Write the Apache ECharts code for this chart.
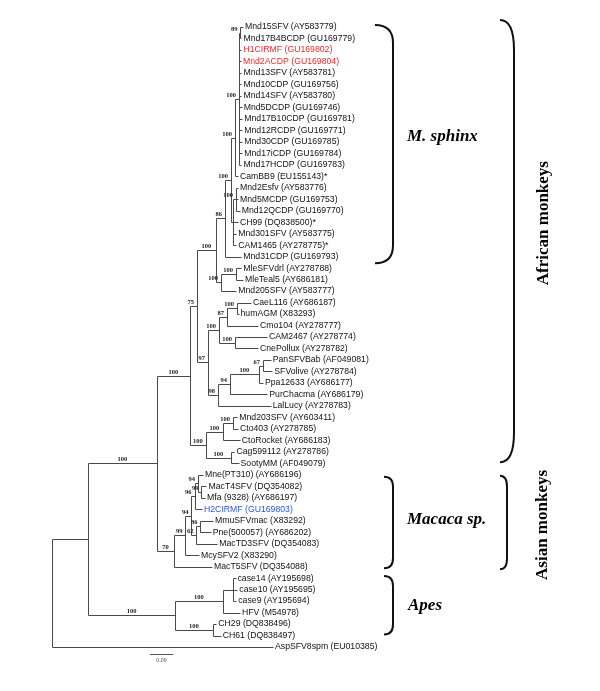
<!DOCTYPE html>
<html><head><meta charset="utf-8">
<script src="https://cdn.jsdelivr.net/npm/echarts@6.0.0/dist/echarts.min.js"></script>
<style>html,body{margin:0;padding:0;background:#fff}#chart{width:600px;height:691px}</style>
</head><body><div id="chart"></div>
<script>
// ---------- DATA ----------
const taxa = [
 'Mnd15SFV (AY583779)','Mnd17B4BCDP (GU169779)','H1CIRMF (GU169802)','Mnd2ACDP (GU169804)',
 'Mnd13SFV (AY583781)','Mnd10CDP (GU169756)','Mnd14SFV (AY583780)','Mnd5DCDP (GU169746)',
 'Mnd17B10CDP (GU169781)','Mnd12RCDP (GU169771)','Mnd30CDP (GU169785)','Mnd17iCDP (GU169784)',
 'Mnd17HCDP (GU169783)','CamBB9 (EU155143)*','Mnd2Esfv (AY583776)','Mnd5MCDP (GU169753)',
 'Mnd12QCDP (GU169770)','CH99 (DQ838500)*','Mnd301SFV (AY583775)','CAM1465 (AY278775)*',
 'Mnd31CDP (GU169793)','MleSFVdrl (AY278788)','MleTeal5 (AY686181)','Mnd205SFV (AY583777)',
 'CaeL116 (AY686187)','humAGM (X83293)','Cmo104 (AY278777)','CAM2467 (AY278774)',
 'CnePollux (AY278782)','PanSFVBab (AF049081)','SFVolive (AY278784)','Ppa12633 (AY686177)',
 'PurChacma (AY686179)','LalLucy (AY278783)','Mnd203SFV (AY603411)','Cto403 (AY278785)',
 'CtoRocket (AY686183)','Cag599112 (AY278786)','SootyMM (AF049079)','Mne(PT310) (AY686196)',
 'MacT4SFV (DQ354082)','Mfa (9328) (AY686197)','H2CIRMF (GU169803)','MmuSFVmac (X83292)',
 'Pne(500057) (AY686202)','MacTD3SFV (DQ354083)','McySFV2 (X83290)','MacT5SFV (DQ354088)',
 'case14 (AY195698)','case10 (AY195695)','case9 (AY195694)','HFV (M54978)',
 'CH29 (DQ838496)','CH61 (DQ838497)','AspSFV8spm (EU010385)'
];
const redTaxa = ['H1CIRMF (GU169802)','Mnd2ACDP (GU169804)'];
const blueTaxa = ['H2CIRMF (GU169803)'];

// Newick sub-clades (leaf = index into taxa, internal label = bootstrap, :branch length)
const cladeS1 = '(0:0.0097,1:0.0039)89:0.0058';
const cladeS2 = `(${cladeS1},2:0.0097,3:0.0077,4:0.0097,5:0.0097,6:0.0097,7:0.0104,8:0.0127,9:0.0127,10:0.0127,11:0.0127,12:0.0097)100:0.0154`;
const cladeS3 = `(${cladeS2},13:0.0116)100:0.0154`;
const cladeS5 = '(14:0.0077,15:0.0077,16:0.0143)100:0.0116';
const cladeS6 = `(${cladeS5},17:0.0193,18:0.0127,19:0.0127):0.0077`;
const cladeS4 = `(${cladeS3},${cladeS6})100:0.0232`;
const cladeS7 = `(${cladeS4},20:0.0629)86:0.0347`;
const cladeMle = '((21:0.0205,22:0.0270)100:0.0579,23:0.0591)100:0.0193';
const cladeS8 = `(${cladeS7},${cladeMle})100:0.0734`;
const cladeG1 = '(((24:0.0541,25:0.0058)100:0.0386,26:0.1197)87:0.0309,(27:0.1236,28:0.0888)100:0.0618)100:0.0425';
const cladeG2 = '((((29:0.0297,30:0.0359)67:0.0154,31:0.0154)100:0.1120,32:0.1440)94:0.0463,33:0.2035)98:0.0386';
const clade75 = `(${cladeS8},(${cladeG1},${cladeG2})97:0.0425)75:0.0270`;
const cladeCto = '(((34:0.0166,35:0.0193)100:0.0386,36:0.0645)100:0.0656,(37:0.0135,38:0.0290)100:0.0965)100:0.0618';
const cladeAfrican = `(${clade75},${cladeCto})100:0.1274`;
const cladeMacA = '((39:0.0193,(40:0.0193,41:0.0135)99:0.0135)94:0.0135,42:0.0290)96:0.0116';
const cladeMacB = '((43:0.0483,44:0.0394)86:0.0154,45:0.0803)62:0.0193';
const cladeMacaca = `(((${cladeMacA},${cladeMacB})94:0.0232,46:0.0521)99:0.0444,47:0.1467)70:0.0656`;
const cladeApes = '(((48:0.0097,49:0.0166,50:0.0127):0.0386,51:0.0656)100:0.1853,(52:0.0127,53:0.0297)100:0.1467)100:0.3359';
const newick = `(((${cladeAfrican},${cladeMacaca})100:0.2664,${cladeApes}):0.1390,54:0.8533);`;

const groupNames = ['M. sphinx','Macaca sp.','Apes','African monkeys','Asian monkeys'];
const groupFirst = [0,39,48,0,39];
const groupLast  = [20,47,53,38,47];

const scaleBarLength = 0.09;
const scaleBarText = '0.09';

// ---------- LAYOUT / STYLE ----------
const braceStyle = [
  {x0:375, w:18, r:18, padTop:2,  padBot:6.5, lx:407, dy:-7,  rotate:false},
  {x0:384, w:9,  r:10, padTop:-2, padBot:1.5, lx:407, dy:-2.5,rotate:false},
  {x0:384, w:9,  r:10, padTop:2,  padBot:-1,  lx:408, dy:0,   rotate:false},
  {x0:500, w:14, r:30, padTop:7,  padBot:-1,  lx:544, dy:-18, rotate:true},
  {x0:500, w:7,  r:11, padTop:-1, padBot:2.5, lx:543, dy:2.5, rotate:true}
];
const scaleBarPos = [0.378, 54.6];

// ---------- PARSE ----------
function parseNewick(str){
  const s = str.replace(/\s+/g,'');
  let i = 0;
  function node(){
    const n = {children:[]};
    if (s[i] === '('){
      i++;
      n.children.push(node());
      while (s[i] === ','){ i++; n.children.push(node()); }
      i++;
    }
    let name = '';
    while (i < s.length && !':,();'.includes(s[i])) name += s[i++];
    n.name = name;
    n.len = 0;
    if (s[i] === ':'){
      i++; let num = '';
      while (i < s.length && !',();'.includes(s[i])) num += s[i++];
      n.len = parseFloat(num);
    }
    return n;
  }
  return node();
}
const root = parseNewick(newick);
let leafCounter = 0;
const leaves = [], edges = [], supports = [];
function layout(n, depth, parent){
  n.depth = depth;
  if (!n.children.length){
    n.y = leafCounter++;
    leaves.push({label: taxa[+n.name], depth: n.depth, y: n.y});
  } else {
    n.children.forEach(c => layout(c, depth + c.len, n));
    n.y = (n.children[0].y + n.children[n.children.length-1].y) / 2;
    edges.push([n.depth, n.children[0].y, n.depth, n.children[n.children.length-1].y]);
    if (n.name && parent) supports.push([parent.depth, n.depth, n.y, +n.name]);
  }
  if (parent) edges.push([parent.depth, n.y, n.depth, n.y]);
}
layout(root, 0, null);

// ---------- CHART ----------
const chart = echarts.init(document.getElementById('chart'), null, {renderer:'canvas'});
const crisp = v => Math.round(v) + 0.5;
const labelFont = 'normal 8.7px "Liberation Sans", Arial, sans-serif';
const supFont = 'bold 6.5px "Liberation Serif", "Times New Roman", serif';
const groupFont = 'bold italic 17px "Liberation Serif", "Times New Roman", serif';
const groupFontR = 'bold 17px "Liberation Serif", "Times New Roman", serif';

chart.setOption({
  animation: false,
  backgroundColor: '#fff',
  grid: {left:52, right:30, top:27, bottom:44, containLabel:false},
  xAxis: {type:'value', min:0, max:2, show:false},
  yAxis: {type:'value', min:0, max:54, inverse:true, show:false},
  series: [
    {
      type:'custom', clip:false, silent:true,
      data: edges, encode:{x:[0,2], y:[1,3]},
      renderItem(params, api){
        const a = api.coord([api.value(0), api.value(1)]);
        const b = api.coord([api.value(2), api.value(3)]);
        return {type:'line', shape:{x1:crisp(a[0]), y1:crisp(a[1]), x2:crisp(b[0]), y2:crisp(b[1])},
                style:{stroke:'#4a4a4a', lineWidth:1}};
      }
    },
    {
      type:'custom', clip:false, silent:true,
      data: leaves.map(l => [l.depth, l.y]), encode:{x:0, y:1},
      renderItem(params, api){
        const p = api.coord([api.value(0), api.value(1)]);
        const lab = leaves[params.dataIndex].label;
        const col = redTaxa.includes(lab) ? '#ee2a2a' : (blueTaxa.includes(lab) ? '#2b55e6' : '#111');
        return {type:'text', x: p[0] + 2, y: p[1],
                style:{text: lab, fill: col, font: labelFont, align:'left', verticalAlign:'middle'}};
      }
    },
    {
      type:'custom', clip:false, silent:true,
      data: supports, encode:{x:[0,1], y:2},
      renderItem(params, api){
        const a = api.coord([api.value(0), api.value(2)]);
        const b = api.coord([api.value(1), api.value(2)]);
        const txt = String(api.value(3));
        const w = txt.length * 3.3;
        const cx = Math.min((a[0] + b[0]) / 2, b[0] - 3 - w / 2);
        return {type:'text', x: cx, y: crisp(a[1]) - 1,
                style:{text: txt, fill:'#222', font: supFont, align:'center', verticalAlign:'bottom'}};
      }
    },
    {
      type:'custom', clip:false, silent:true,
      data: groupNames.map((g, k) => [0, groupFirst[k], groupLast[k]]), encode:{y:[1,2]},
      renderItem(params, api){
        const k = params.dataIndex, st = braceStyle[k];
        const y1 = api.coord([0, api.value(1)])[1] - st.padTop;
        const y2 = api.coord([0, api.value(2)])[1] + st.padBot;
        const x0 = st.x0, x1 = st.x0 + st.w, r = st.r;
        const d = `M${x0} ${y1} Q${x1} ${y1} ${x1} ${y1 + r} L${x1} ${y2 - r} Q${x1} ${y2} ${x0} ${y2}`;
        const cy = (y1 + y2) / 2 + st.dy;
        const text = st.rotate
          ? {type:'text', x: st.lx, y: cy, rotation: Math.PI / 2,
             style:{text: groupNames[k], fill:'#000', font: groupFontR, align:'center', verticalAlign:'middle'}}
          : {type:'text', x: st.lx, y: cy,
             style:{text: groupNames[k], fill:'#000', font: groupFont, align:'left', verticalAlign:'middle'}};
        return {type:'group', children:[
          {type:'path', shape:{pathData: d}, style:{stroke:'#111', lineWidth:2, fill:'none'}},
          text
        ]};
      }
    },
    {
      type:'custom', clip:false, silent:true,
      data: [[scaleBarPos[0], scaleBarPos[1], scaleBarPos[0] + scaleBarLength]], encode:{x:[0,2], y:1},
      renderItem(params, api){
        const a = api.coord([api.value(0), api.value(1)]);
        const b = api.coord([api.value(2), api.value(1)]);
        return {type:'group', children:[
          {type:'line', shape:{x1:a[0], y1:crisp(a[1]), x2:b[0], y2:crisp(a[1])}, style:{stroke:'#555', lineWidth:1}},
          {type:'text', x:(a[0] + b[0]) / 2, y: a[1] + 7,
           style:{text: scaleBarText, fill:'#555', font:'6px "Liberation Serif", serif', align:'center', verticalAlign:'middle'}}
        ]};
      }
    }
  ]
});
</script>
</body></html>
